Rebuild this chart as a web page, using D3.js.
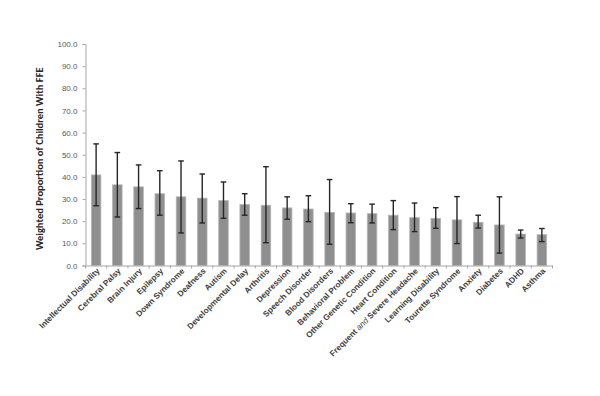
<!DOCTYPE html>
<html>
<head>
<meta charset="utf-8">
<script src="https://cdn.jsdelivr.net/npm/d3@7"></script>
<style>
  body { margin: 0; background: #fff; }
  svg { display: block; font-family: Carlito, "Liberation Sans", "DejaVu Sans", sans-serif; }
</style>
</head>
<body>
<svg id="chart" width="600" height="396"></svg>
<script>
// conditions, in the order shown on the chart
const categories = [
  "Intellectual Disability", "Cerebral Palsy", "Brain Injury", "Epilepsy",
  "Down Syndrome", "Deafness", "Autism", "Developmental Delay", "Arthritis",
  "Depression", "Speech Disorder", "Blood Disorders", "Behavioral Problem",
  "Other Genetic Condition", "Heart Condition", "Frequent and Severe Headache",
  "Learning Disability", "Tourette Syndrome", "Anxiety", "Diabetes", "ADHD", "Asthma"
];

// weighted proportion (%) and confidence interval ends
const values = [40.9, 36.4, 35.5, 32.4, 31.0, 30.4, 29.3, 27.5, 27.2, 26.0, 25.5,
  24.0, 23.7, 23.4, 22.7, 21.6, 21.3, 20.6, 19.5, 18.3, 14.2, 13.9];
const upper = [54.9, 51.0, 45.4, 42.8, 47.2, 41.3, 37.7, 32.4, 44.6, 31.0, 31.5,
  38.8, 27.9, 27.7, 29.3, 28.2, 26.1, 31.1, 22.7, 31.0, 16.0, 16.7];
const lower = [27.0, 21.9, 25.7, 22.7, 14.7, 19.2, 21.3, 22.7, 10.3, 20.9, 19.8,
  9.6, 19.3, 19.2, 16.2, 15.3, 16.8, 9.9, 16.9, 5.6, 12.4, 10.8];

const yTicks = d3.range(0, 101, 10);

const svg = d3.select("#chart");
const plotLeft = 85.5, plotRight = 552.5, plotTop = 44, plotBottom = 265.5;

// scales
const x = d3.scaleBand()
  .domain(categories)
  .range([plotLeft, plotRight])
  .padding(0);

const y = d3.scaleLinear()
  .domain([0, 100])
  .range([plotBottom, plotTop]);

const barW = x.bandwidth() * 0.45;

// y axis
const yAxis = svg.append("g")
  .attr("transform", `translate(${plotLeft},0)`)
  .call(d3.axisLeft(y).tickValues(yTicks).tickFormat(d => d.toFixed(1)).tickSize(3).tickPadding(5));
yAxis.select(".domain").attr("stroke", "#a6a6a6");
yAxis.selectAll(".tick line").attr("stroke", "#a6a6a6");
yAxis.selectAll("text")
  .attr("fill", "#595959")
  .style("font-size", "8px");

// bars
svg.selectAll(".bar")
  .data(categories)
  .enter().append("rect")
  .attr("class", "bar")
  .attr("x", d => x(d) + (x.bandwidth() - barW) / 2)
  .attr("y", (d, i) => y(values[i]))
  .attr("width", barW)
  .attr("height", (d, i) => y(0) - y(values[i]))
  .attr("fill", "#8f8f8f")
  .attr("stroke", "#b5b5b5")
  .attr("stroke-width", 0.8);

// error bars
const err = svg.append("g").attr("stroke", "#262626").attr("stroke-width", 1.4);
categories.forEach((c, i) => {
  const cx = x(c) + x.bandwidth() / 2;
  err.append("line")
    .attr("x1", cx).attr("x2", cx)
    .attr("y1", y(upper[i])).attr("y2", y(lower[i]));
  [upper[i], lower[i]].forEach(v => {
    err.append("line")
      .attr("x1", cx - 2.8).attr("x2", cx + 2.8)
      .attr("y1", y(v)).attr("y2", y(v));
  });
});

// x axis: labels centred on bars, ticks at category boundaries
const xAxis = svg.append("g")
  .attr("transform", `translate(0,${plotBottom})`)
  .call(d3.axisBottom(x).tickSize(0).tickPadding(0));
xAxis.select(".domain").attr("stroke", "#a6a6a6");
xAxis.selectAll(".tick text")
  .attr("fill", "#404040")
  .style("font-size", "8.2px")
  .style("font-weight", "bold")
  .attr("text-anchor", "end")
  .attr("dy", null)
  .attr("y", 0)
  .attr("transform", "translate(4,6) rotate(-45)");

// italic "and" in the headache label
xAxis.selectAll(".tick text")
  .filter(d => d === "Frequent and Severe Headache")
  .text(null)
  .call(t => {
    t.append("tspan").text("Frequent ");
    t.append("tspan").text("and").style("font-style", "italic").style("font-weight", "normal");
    t.append("tspan").text(" Severe Headache");
  });

const bounds = categories.map(c => x(c)).concat([plotRight]);
xAxis.selectAll(".bound")
  .data(bounds)
  .enter().append("line")
  .attr("class", "bound")
  .attr("x1", d => d).attr("x2", d => d)
  .attr("y1", 0).attr("y2", 3)
  .attr("stroke", "#a6a6a6");

// y axis title
svg.append("text")
  .attr("transform", `translate(43,${(plotTop + plotBottom) / 2 + 4}) rotate(-90)`)
  .attr("text-anchor", "middle")
  .attr("fill", "#262626")
  .style("font-size", "10.5px")
  .style("font-weight", "bold")
  .text("Weighted Proportion of Children With FFE");
</script>
</body>
</html>
